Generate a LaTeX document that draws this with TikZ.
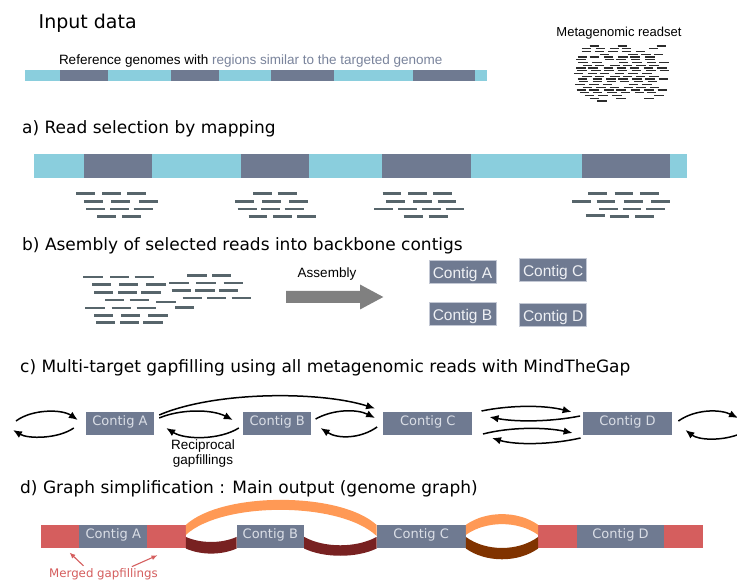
\documentclass[tikz,border=0pt]{standalone}
\usepackage{fontspec}
\setmainfont{DejaVu Sans}
\newfontfamily\arialf{Liberation Sans}
\usetikzlibrary{calc,arrows.meta}
\definecolor{gblue}{RGB}{138,206,221}
\definecolor{slate}{RGB}{111,122,145}
\definecolor{readc}{RGB}{87,101,107}
\definecolor{mreadc}{RGB}{45,45,45}
\definecolor{arrowg}{RGB}{128,128,128}
\definecolor{redb}{RGB}{213,94,94}
\definecolor{orangeb}{RGB}{255,153,85}
\definecolor{maroonb}{RGB}{120,33,33}
\definecolor{brownb}{RGB}{128,51,0}
\definecolor{regtext}{RGB}{122,132,156}
\definecolor{lbl}{RGB}{218,222,230}
\definecolor{bborder}{RGB}{195,200,212}
\definecolor{blbl}{RGB}{238,240,244}
\begin{document}
\begin{tikzpicture}[x=1pt,y=-1pt,
  title/.style={anchor=base west, inner sep=0pt, font=\fontsize{17}{20}\selectfont},
  small/.style={inner sep=0pt, font=\arialf\fontsize{13.5}{15}\selectfont},
  read/.style={draw=readc, line width=2.8pt},
  mread/.style={draw=mreadc, line width=1.2pt},
  bcontig/.style={fill=slate, draw=bborder, line width=0.8pt, minimum width=67pt, minimum height=23pt, inner sep=0pt, text=blbl, font=\arialf\fontsize{15.5}{17}\selectfont, text height=12.5pt, text depth=0pt},
  contig/.style={fill=slate, minimum height=23pt, inner sep=0pt, text=lbl, font=\fontsize{13}{15}\selectfont, text height=8pt, text depth=4pt},
  dcontig/.style={contig, minimum height=23.3pt, text height=8pt, text depth=4.8pt},
  redblock/.style={fill=redb, minimum height=23.3pt, minimum width=38.5pt, inner sep=0pt},
  arc/.style={line width=1.5pt, -{Latex[length=9pt,width=7.5pt]}},
  mgarrow/.style={draw=redb, line width=1.1pt, -{Latex[length=6pt,width=5pt]}}
]
\useasboundingbox (0,0) rectangle (737,580);
\clip (0,0) rectangle (737,580);
\fill[white] (0,0) rectangle (737,580);

% ---------- Input data ----------
\node[anchor=base west, inner sep=0pt, font=\fontsize{19}{22}\selectfont] (tin) at (38.5,28.3) {Input data};
\node[small, anchor=base west] (tref) at (58.8,65) {Reference genomes with \textcolor{regtext}{regions similar to the targeted genome}};
\node[inner sep=0pt, anchor=base, font=\arialf\fontsize{13}{15}\selectfont] (tmeta) at (619,36.5) {Metagenomic readset};

\fill[gblue] (25,70) rectangle (487,81);
\foreach \a/\b in {60.2/108.2,170.7/219.2,271.4/334,413/475}
  \fill[slate] (\a,70) rectangle (\b,81);

% metagenomic readset
\pgfmathsetseed{12}
\foreach \r/\xa/\xb in {0/587/667,1/577/670,2/578/668,3/582/672,4/575/668,5/573/665,6/574/670,7/578/672,8/573/668,9/576/670,10/572/668,11/577/665,12/575/670,13/578/668,14/574/666,15/580/668,16/573/670,17/576/672,18/580/668,19/585/660,20/593/617}{
  \pgfmathsetmacro\yy{46+\r*2.75}
  \pgfmathsetmacro\off{rnd*5}
  \foreach \k in {0,...,8}{
    \pgfmathsetmacro\xx{\xa+\off+\k*13.5+rnd*2}
    \pgfmathtruncatemacro\ok{and(\xx+10<=\xb, rnd>0.12)}
    \ifnum\ok=1 \draw[mread] (\xx,\yy) -- ++(9.5,0); \fi
  }
}

% ---------- a) ----------
\node[title] (ta) at (22,134) {a) Read selection by mapping};
\fill[gblue] (34,154) rectangle (687,178);
\foreach \a/\b in {84/152,240.5/308.7,381.6/470.5,581.6/669.5}
  \fill[slate] (\a,154) rectangle (\b,178);
\foreach \x/\y in {76.3/193.7,102.2/193.7,127/193.7,
                   83.8/201.3,111/201.3,138.9/201.3,
                   86.2/209,110.2/209,133.7/209,
                   97/216.7,121.9/216.7,
                   253.2/193.7,277.7/193.7,
                   235.3/201.3,262.1/201.3,289.4/201.3,
                   237.7/209,261.2/209,284.7/209,
                   248.5/216.7,273/216.7,297.4/216.7,
                   382.6/193.7,408.4/193.7,433.4/193.7,
                   385.9/201.3,413.1/201.3,437.6/201.3,
                   374.1/209,398.1/209,422.1/209,445.6/209,
                   403.7/216.7,428.7/216.7,
                   588.1/193.7,614.5/193.7,639.9/193.7,
                   572.1/201.3,596.6/201.3,623.9/201.3,651.2/201.3,
                   599/209,622.5/209,646/209,
                   585.8/215.8,609.8/216.7,635.2/216.7}
  \draw[read] (\x,\y) -- ++(18.8,0);

% ---------- b) ----------
\node[title] (tb) at (22,250.5) {b) Asembly of selected reads into backbone contigs};
\foreach \x/\y in {83.3/277,110/277,134.7/277,187.3/275.3,212/275.3,
                   92/284.7,119/284.7,146.3/284.7,169.3/283,196.3/283,223.7/283,
                   94/292.3,118/292.3,141.3/292.3,171.7/290.3,195.3/290.3,219/290.3,
                   105/300,129.7/300,156.3/302,182.7/298,207/298,231.7/298,
                   85.3/308,111.7/308,136.7/308,175/307.7,
                   94/315.3,121/315.3,148.3/315.3,
                   96/322.7,120/322.7,143.3/322.7}
  \draw[read] (\x,\y) -- ++(19.3,0);

\fill[arrowg] (286,291) -- (360,291) -- (360,284.5) -- (383.3,297) -- (360,309.5) -- (360,303) -- (286,303) -- cycle;
\node[small, anchor=base] (tasm) at (327,277.7) {Assembly};

\node[bcontig] (bA) at (462.5,272) {Contig A};
\node[bcontig] (bC) at (553.2,270) {Contig C};
\node[bcontig] (bB) at (462.5,314) {Contig B};
\node[bcontig] (bD) at (553.2,315.3) {Contig D};

% ---------- c) ----------
\node[title] (tc) at (20,372.5) {c) Multi-target gapfilling using all metagenomic reads with MindTheGap};

\node[contig, minimum width=68pt] (cA) at (120,423.5) {Contig A};
\node[contig, minimum width=68.4pt] (cB) at (277.2,423.5) {Contig B};
\node[contig, minimum width=89pt] (cC) at (427.8,423.5) {Contig C};
\node[contig, minimum width=88.4pt] (cD) at (627.5,423.5) {Contig D};

\coordinate (l1) at (16,421);
\coordinate (l2) at (13,430);
\coordinate (r1) at (738,418);
\coordinate (r2) at (737,435);

\draw[arc] (l1) .. controls +(16,-12) and +(-16,-11) .. ($(cA.west)+(-8,-3.5)$);
\draw[arc] ($(cA.west)+(-12,4.5)$) .. controls +(-16,11) and +(15,9) .. (l2);
\draw[arc] ($(cA.east)+(5,-5.5)$) .. controls +(21,-9) and +(-21,-11) .. ($(cB.west)+(-10,-3.5)$);
\draw[arc] ($(cB.west)+(-4,4.5)$) .. controls +(-19,12) and +(19,12) .. ($(cA.east)+(12,4.5)$);
\draw[arc] ($(cA.east)+(5,-8.5)$) .. controls +(56,-24) and +(-55,-17.5) .. ($(cC.west)+(-8,-15)$);
\draw[arc] ($(cB.east)+(4,-4.5)$) .. controls +(18,-10) and +(-18,-9) .. ($(cC.west)+(-8,-5.5)$);
\draw[arc] ($(cC.west)+(-6,3.5)$) .. controls +(-17,12) and +(17,11) .. ($(cB.east)+(9,4.5)$);
\draw[arc] ($(cC.east)+(9,-12.5)$) .. controls +(29,-6) and +(-27,-7) .. ($(cD.west)+(-11.5,-11.5)$);
\draw[arc] ($(cD.west)+(-3,-7.5)$) .. controls +(-30,6) and +(26,5) .. ($(cC.east)+(17,-6.5)$);
\draw[arc] ($(cC.east)+(10.5,10.5)$) .. controls +(27,-7) and +(-28,-6) .. ($(cD.west)+(-10.5,9.5)$);
\draw[arc] ($(cD.west)+(-2.5,14.5)$) .. controls +(-31,7) and +(23,7) .. ($(cC.east)+(19.5,14.5)$);
\draw[arc] ($(cD.east)+(6.5,-2.5)$) .. controls +(17,-12) and +(-18,-9) .. (r1);
\draw[arc] (r2) .. controls +(-17,6) and +(13,10) .. ($(cD.east)+(13.5,6.5)$);

\node[small, align=center, font=\arialf\fontsize{13.5}{15}\selectfont] (trec) at (203,454) {Reciprocal\\gapfillings};

% ---------- d) ----------
\node[title] (td) at (20,493) {d) Graph simplification : Main output (genome graph)};

\node[redblock, minimum width=38.6pt] (R1) at (60,536.7) {};
\node[dcontig, minimum width=68pt] (CA) at (113.3,536.7) {Contig A};
\node[redblock, minimum width=38.4pt] (R2) at (166.5,536.7) {};
\node[dcontig, minimum width=67.3pt] (CB) at (270.35,536.7) {Contig B};
\node[dcontig, minimum width=89pt] (CC) at (421.2,536.7) {Contig C};
\node[redblock, minimum width=38.4pt] (R3) at (557.5,536.7) {};
\node[dcontig, minimum width=87.6pt] (CD) at (620.5,536.7) {Contig D};
\node[redblock, minimum width=38.4pt] (R4) at (683.5,536.7) {};

\fill[orangeb] (R2.north east) .. controls +(36.3,-33.3) and +(-36.7,-33.3) .. (CC.north west)
   -- ($(CC.north west)+(0,11)$) .. controls +(-36.7,-34.5) and +(36.3,-33.5) .. ($(R2.north east)+(0,10)$) -- cycle;
\fill[orangeb] (CC.north east) .. controls +(20,-14.3) and +(-20,-14.3) .. (R3.north west)
   -- ($(R3.north west)+(0,10)$) .. controls +(-20,-14.3) and +(20,-14.3) .. ($(CC.north east)+(0,10)$) -- cycle;
\fill[maroonb] ($(R2.south east)+(0,-11.6)$) .. controls +(15,6.7) and +(-15,6.7) .. ($(CB.south west)+(0,-11.6)$)
   -- (CB.south west) .. controls +(-15,6.7) and +(15,6.7) .. (R2.south east) -- cycle;
\fill[maroonb] ($(CB.south east)+(0,-11.6)$) .. controls +(20,11.1) and +(-20,11.1) .. ($(CC.south west)+(0,-11.6)$)
   -- (CC.south west) .. controls +(-20,9.6) and +(20,9.6) .. (CB.south east) -- cycle;
\fill[brownb] ($(CC.south east)+(0,-11.6)$) .. controls +(20,14.7) and +(-20,14.7) .. ($(R3.south west)+(0,-11.6)$)
   -- (R3.south west) .. controls +(-20,14.3) and +(20,14.3) .. (CC.south east) -- cycle;

\node[anchor=base, inner sep=0pt, text=redb, font=\fontsize{11.8}{13}\selectfont] (tmg) at (103.5,577) {Merged gapfillings};
\draw[mgarrow] ($(tmg.north)+(-20,-2)$) -- ($(R1.south east)+(-10,4)$);
\draw[mgarrow] ($(tmg.north)+(28.4,-1.2)$) -- ($(R2.south west)+(10.4,6.7)$);
\end{tikzpicture}
\end{document}
